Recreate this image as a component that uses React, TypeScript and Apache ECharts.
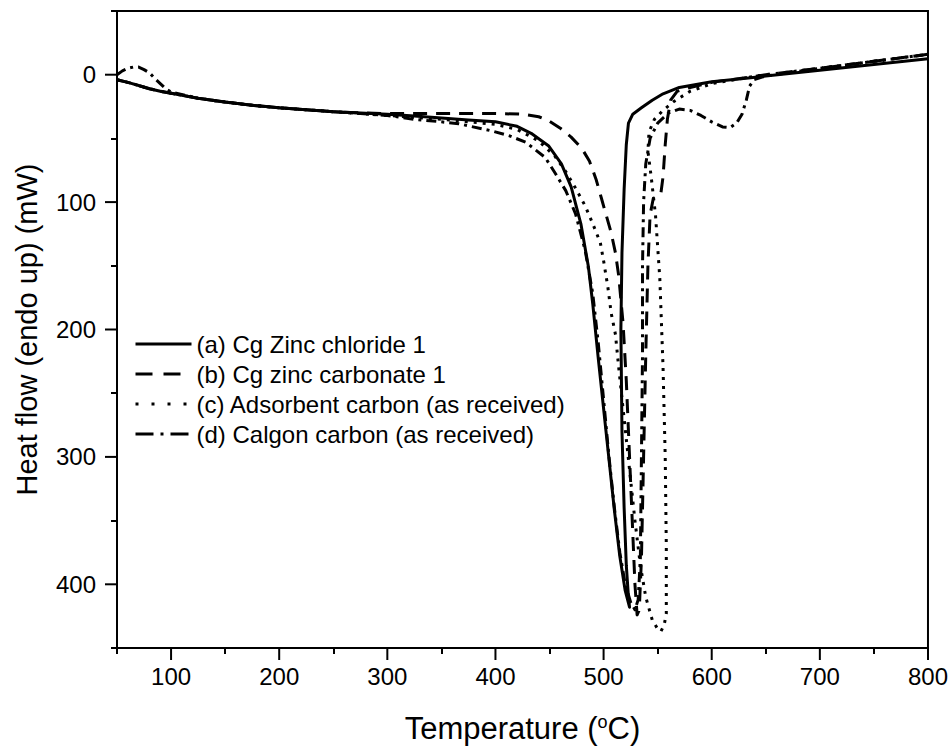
import React, { useEffect, useRef } from "react";
import * as echarts from "echarts";

// ---- data (temperature °C, heat flow mW; endo up -> axis inverted) ----
const aTemp = [50, 60, 70, 80, 90, 100, 125, 150, 175, 200, 225, 250, 275, 300, 325, 350, 375, 400, 420, 433, 449, 461, 470, 479, 486, 490, 495, 500, 505, 510, 515, 520, 524, 523, 521, 519, 517, 516, 517, 519, 521, 523, 527, 535, 545, 555, 570, 600, 634, 650, 700, 750, 800];
const aHeat = [4, 6, 8.5, 11, 13, 14.5, 18.5, 21.5, 24, 26, 27.5, 29, 30, 31, 32.5, 34, 35.5, 37, 40.5, 46, 55.7, 70, 88, 117, 151, 180, 222, 262, 302, 342, 378, 405, 418, 410, 385, 340, 280, 200, 140, 90, 55, 38, 31, 26, 20, 15, 10, 5.5, 2.5, 1, -3.5, -8, -12.5];

const bTemp = [50, 60, 70, 80, 90, 100, 125, 150, 175, 200, 225, 250, 275, 300, 350, 400, 425, 440, 449, 460, 470, 480, 487, 493, 498, 503, 507, 511, 514, 518, 521, 524, 527, 529, 531, 533, 535, 537, 539, 541, 543, 546, 550, 553, 555, 557, 559, 562, 568, 580, 600, 634, 650, 700, 750, 800];
const bHeat = [4, 6, 8.5, 11, 13, 14.5, 18.5, 21.5, 24, 26, 27.5, 29, 30, 30.5, 30.5, 30.5, 31, 33, 36, 42, 49, 58, 68, 82, 97, 112, 124, 140, 158, 195, 240, 300, 360, 400, 424, 420, 380, 300, 220, 150, 110, 97, 96, 93, 80, 55, 35, 20, 13, 10, 6, 2, 0, -5, -10.5, -16];

const cTemp = [50, 60, 70, 80, 90, 100, 125, 150, 175, 200, 225, 250, 275, 300, 350, 400, 420, 440, 455, 465, 474, 483, 490, 497, 500, 504, 507, 511, 514, 519, 524, 529, 534, 539, 545, 550, 553, 556, 558, 558, 557, 555, 552, 548, 544, 541, 542, 547, 555, 565, 580, 600, 634, 650, 700, 750, 800];
const cHeat = [4, 6, 8.5, 11, 13, 14.5, 18.5, 21.5, 24, 26, 27.5, 29, 30.5, 32, 35, 39, 43, 52, 64, 76, 89, 103, 117, 132, 146, 167, 187, 204, 230, 270, 310, 350, 385, 410, 428, 435, 437, 432, 423, 370, 300, 230, 160, 110, 80, 60, 45, 35, 28, 21, 13, 7, 2, 0, -5, -10.5, -16];

const dTemp = [50, 55, 60, 65, 70, 75, 80, 85, 90, 95, 100, 125, 150, 175, 200, 225, 250, 275, 300, 325, 350, 366, 396, 413, 428, 446, 455, 465, 474, 483, 490, 495, 500, 505, 510, 515, 520, 525, 529, 532, 534, 535, 536, 536, 537, 539, 543, 550, 560, 570, 580, 590, 600, 610, 617, 623, 628, 632, 635, 639, 650, 700, 750, 800];
const dHeat = [0, -3, -5, -6, -6, -4, -1.5, 3, 7, 11, 13.5, 18.5, 21.5, 24, 26, 27.5, 29, 30.5, 32, 35, 37, 38.5, 44, 48, 53, 65, 77, 91, 109, 138, 172, 210, 255, 300, 340, 375, 400, 414, 420, 412, 380, 300, 220, 150, 100, 70, 50, 38, 30, 27, 28, 32, 37, 41, 41.5, 38, 31, 20, 9, 4, 1, -5, -10.5, -16];

const seriesNames = [
  "(a) Cg Zinc chloride 1",
  "(b) Cg zinc carbonate 1",
  "(c) Adsorbent carbon (as received)",
  "(d) Calgon carbon (as received)",
];

const X_MIN = 50;
const X_MAX = 800;
const Y_MIN = -50;
const Y_MAX = 450;
const xMajorTicks = [100, 200, 300, 400, 500, 600, 700, 800];
const xMinorTicks = [50, 150, 250, 350, 450, 550, 650, 750];
const yMajorTicks = [0, 100, 200, 300, 400];
const yMinorTicks = [-50, 50, 150, 250, 350, 450];

const zip = (t: number[], v: number[]) => t.map((x, i) => [x, v[i]]);

const FONT = "Liberation Sans, Arial, sans-serif";
const MAJOR_LEN = 12;

export default function App() {
  const ref = useRef<HTMLDivElement>(null);
  useEffect(() => {
    if (!ref.current) return;
    const chart = echarts.init(ref.current, null, { renderer: "svg" });
    const dashes: any[] = ["solid", [14, 9], [3, 6], [10, 5, 3, 5]];
    const legendDashes: any[] = ["solid", [17, 11], [3, 13], [18, 7, 3, 7]];
    const datas = [zip(aTemp, aHeat), zip(bTemp, bHeat), zip(cTemp, cHeat), zip(dTemp, dHeat)];
    const tickStyle = { color: "#000", width: 2 };

    const lineSeries = seriesNames.map((n, i) => ({
      name: n,
      type: "line",
      xAxisIndex: 0,
      yAxisIndex: 0,
      data: datas[i],
      showSymbol: false,
      symbol: "none",
      smooth: false,
      z: 10 - i,
      itemStyle: { color: "#000" },
      lineStyle: { color: "#000", width: 3, type: dashes[i], cap: "butt", join: "round" },
    }));

    // major ticks drawn through the axes' own scales
    const xTickSeries = {
      type: "custom",
      silent: true,
      clip: false,
      z: 20,
      data: xMajorTicks.map((t) => [t, Y_MAX]),
      renderItem: (_p: any, api: any) => {
        const p = api.coord([api.value(0), Y_MAX]);
        return {
          type: "line",
          shape: { x1: p[0], y1: p[1], x2: p[0], y2: p[1] + MAJOR_LEN },
          style: { stroke: "#000", lineWidth: 2 },
        };
      },
    };
    const yTickSeries = {
      type: "custom",
      silent: true,
      clip: false,
      z: 20,
      data: yMajorTicks.map((v) => [X_MIN, v]),
      renderItem: (_p: any, api: any) => {
        const p = api.coord([X_MIN, api.value(1)]);
        return {
          type: "line",
          shape: { x1: p[0] - MAJOR_LEN, y1: p[1], x2: p[0], y2: p[1] },
          style: { stroke: "#000", lineWidth: 2 },
        };
      },
    };

    chart.setOption({
      animation: false,
      backgroundColor: "#fff",
      grid: { left: 117, right: 21, top: 11, bottom: 101, show: true, borderColor: "#000", borderWidth: 2 },
      legend: {
        orient: "vertical",
        left: 129,
        top: 327,
        itemWidth: 56,
        itemHeight: 14,
        itemGap: 6,
        textStyle: { fontFamily: FONT, fontSize: 24, color: "#000" },
        itemStyle: { opacity: 0 },
        lineStyle: { width: 3 },
        data: seriesNames.map((n, i) => ({
          name: n,
          itemStyle: { opacity: 0, borderWidth: 0 },
          lineStyle: { type: legendDashes[i], width: 3, color: "#000" },
        })),
      },
      xAxis: {
        type: "value",
        min: X_MIN,
        max: X_MAX,
        position: "bottom",
        axisLine: { show: true, onZero: false, lineStyle: { color: "#000", width: 2 } },
        splitLine: { show: false },
        axisTick: { show: true, customValues: xMinorTicks, length: 6, lineStyle: tickStyle },
        axisLabel: { customValues: xMajorTicks, fontFamily: FONT, fontSize: 24, color: "#000", margin: 16 },
        name: "Temperature ({sup|o}C)",
        nameLocation: "middle",
        nameGap: 65,
        nameTextStyle: {
          fontFamily: FONT,
          fontSize: 31,
          color: "#000",
          rich: { sup: { fontFamily: FONT, fontSize: 18, color: "#000", verticalAlign: "top", lineHeight: 18 } },
        },
      },
      yAxis: {
        type: "value",
        min: Y_MIN,
        max: Y_MAX,
        inverse: true,
        position: "left",
        axisLine: { show: true, onZero: false, lineStyle: { color: "#000", width: 2 } },
        splitLine: { show: false },
        axisTick: { show: true, customValues: yMinorTicks, length: 6, lineStyle: tickStyle },
        axisLabel: { customValues: yMajorTicks, fontFamily: FONT, fontSize: 24, color: "#000", margin: 21 },
        name: "Heat flow (endo up) (mW)",
        nameLocation: "middle",
        nameGap: 76,
        nameTextStyle: { fontFamily: FONT, fontSize: 29, color: "#000" },
      },
      series: [...lineSeries, xTickSeries, yTickSeries],
    });
    return () => chart.dispose();
  }, []);
  return <div ref={ref} style={{ position: "absolute", left: 0, top: 0, width: 951, height: 749 }} />;
}
